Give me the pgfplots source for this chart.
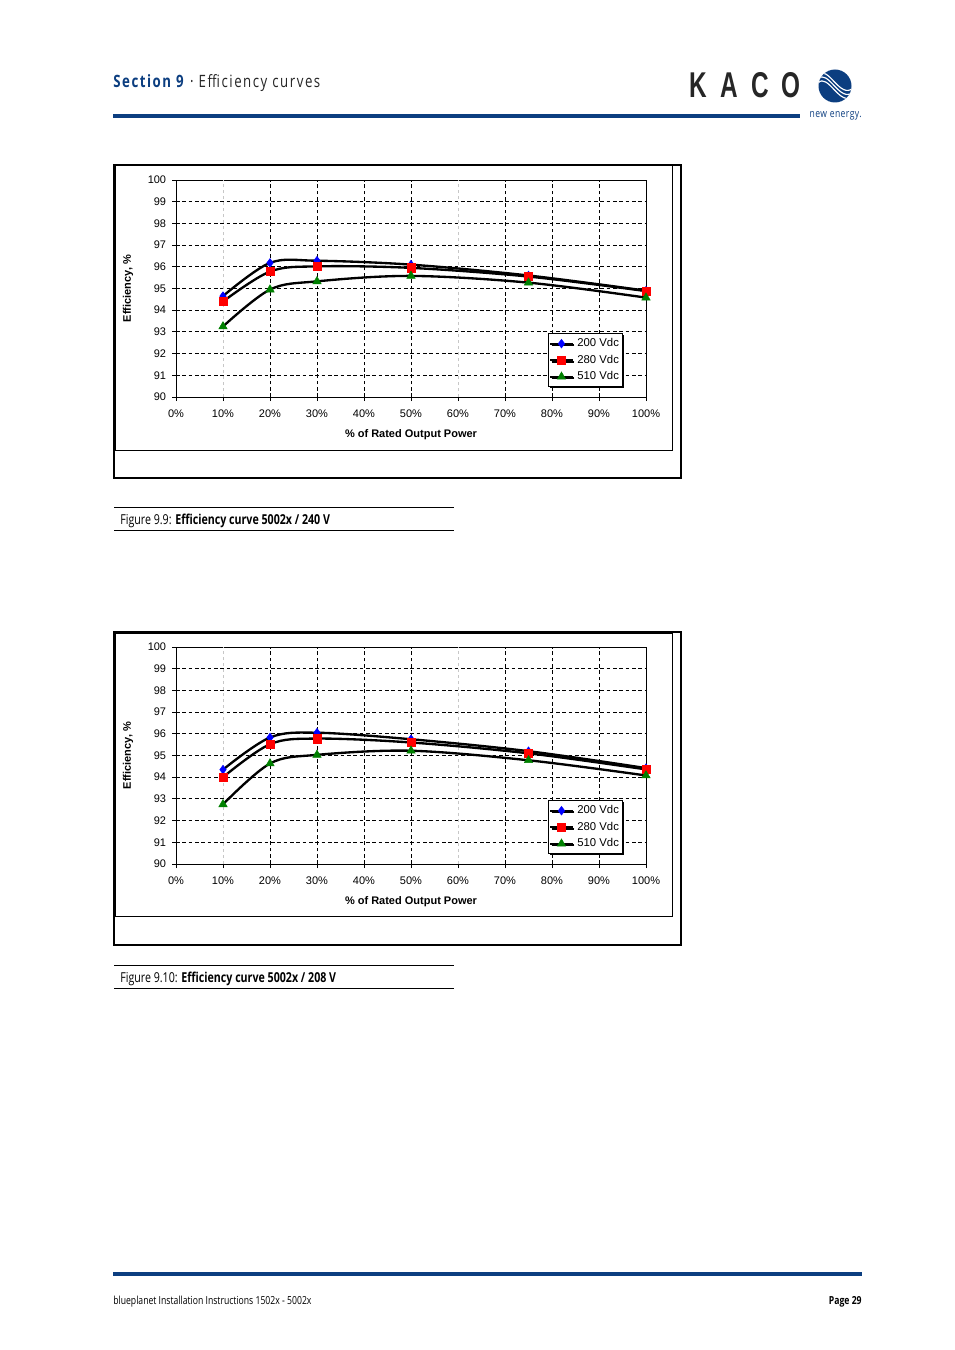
\documentclass[border=0pt]{standalone}
\usepackage{pgfplots}
\usepackage{pgfplotstable}
\pgfplotsset{compat=1.18}
\usepackage{fontspec}
\setmainfont{Liberation Sans}
\newfontfamily\myriad{Open Sans}[FakeStretch=0.78]
\newfontfamily\logofont{Liberation Sans}[FakeStretch=0.68]
\usetikzlibrary{shadows}

\definecolor{kacoblue}{RGB}{12,62,128}
\definecolor{mkblue}{RGB}{0,0,255}
\definecolor{mkred}{RGB}{255,0,0}
\definecolor{mkgreen}{RGB}{0,128,0}

% efficiency, 240 V grid
\pgfplotstableread{
p    v200   v280   v510
10   94.65  94.40  93.25
20   96.18  95.78  94.95
30   96.28  96.02  95.33
50   96.10  95.95  95.58
75   95.60  95.55  95.27
100  94.90  94.88  94.58
}\dataA

% efficiency, 208 V grid
\pgfplotstableread{
p    v200   v280   v510
10   94.35  94.00  92.75
20   95.83  95.52  94.63
30   96.05  95.78  95.03
50   95.75  95.60  95.22
75   95.20  95.10  94.78
100  94.42  94.36  94.08
}\dataB

\pgfplotsset{
  effstyle/.style={
    scale only axis,
    width=282pt, height=130.2pt,
    xmin=0, xmax=100, ymin=90, ymax=100,
    xtick={0,20,30,40,50,70,80,90,100},
    extra x ticks={10,60},
    extra x tick style={major grid style={black!22, dash pattern=on 2pt off 1.6pt, line width=0.45pt}},
    ytick={90,91,...,100},
    xticklabel={\pgfmathprintnumber{\tick}\%},
    /pgf/number format/assume math mode=true,
    grid=major,
    major grid style={black, dash pattern=on 2.2pt off 1.6pt, line width=0.5pt},
    axis line style={black, line width=0.6pt},
    tick align=outside, xtick pos=bottom, ytick pos=left,
    major tick length=2.4pt,
    tick style={black, line width=0.6pt},
    tick label style={font=\fontsize{6.6}{7}\selectfont},
    xticklabel style={yshift=-1.5pt},
    xlabel={\% of Rated Output Power},
    ylabel={Efficiency, \%},
    xlabel style={font=\bfseries\fontsize{6.6}{7}\selectfont, at={(axis description cs:0.5,-0.175)}, anchor=center},
    ylabel style={font=\bfseries\fontsize{6.6}{7}\selectfont, at={(axis description cs:-0.102,0.5)}, anchor=center},
    legend style={at={(0.791,0.295)}, anchor=north west, draw=black, line width=0.8pt,
      fill=white, font=\fontsize{6.8}{8}\selectfont, inner xsep=0.3pt, inner ysep=0.8pt, row sep=-0.5pt,
      cells={anchor=west},
      drop shadow={shadow xshift=0.9pt, shadow yshift=-0.9pt, opacity=1, fill=black}},
    legend image code/.code={\draw[mark repeat=2,mark phase=2] plot coordinates {(0cm,0cm) (0.24cm,0cm) (0.48cm,0cm)};},
  },
  curve/.style={black, line width=1.4pt, smooth, tension=0.55},
  m200/.style={mark=diamond*, mark size=2.6pt, mark options={mkblue, fill=mkblue, line width=0.3pt}},
  m280/.style={mark=square*, mark size=2.5pt, mark options={mkred, fill=mkred, line width=0.3pt}},
  m510/.style={mark=triangle*, mark size=2.9pt, mark options={mkgreen, fill=mkgreen, line width=0.3pt}},
}

\begin{document}
\begin{tikzpicture}
\begin{scope}[x=0.6pt, y=-0.6pt]
  \fill[white] (0,0) rectangle (954,1350);
  \useasboundingbox (0,0) rectangle (954,1350);

  % header
  \node[anchor=base west, inner sep=0] at (113,88)
    {\myriad\fontsize{10.2}{12}\selectfont\addfontfeatures{LetterSpace=9}\textcolor{kacoblue}{\textbf{Section 9}} \textcolor{black!85}{· Efficiency curves}};
  \fill[kacoblue] (113,114) rectangle (800,118);
  \foreach \c/\xx in {K/698, A/729, C/760, O/791}
    \node[anchor=base, inner sep=0, text=black!85] at (\xx,98) {\logofont\bfseries\fontsize{21.5}{22}\selectfont\c};
  \fill[kacoblue] (835,86) circle (16.5);
  \begin{scope}
    \clip (835,86) circle (16.5);
    \foreach \d in {-4,0,4}
      \draw[white, line width=0.7pt] (818,79+\d) .. controls (828,68+\d) and (840,104+\d) .. (853,92+\d);
  \end{scope}
  \node[anchor=base east, inner sep=0, text=kacoblue] at (862,118)
    {\myriad\fontsize{6.6}{8}\selectfont\addfontfeatures{LetterSpace=4}new energy.};

  % chart frames
  \draw[black, line width=0.6pt] (115,166) rectangle (672,450);
  \draw[black, line width=1.3pt] (114,165) rectangle (681,478);
  \draw[black, line width=0.6pt] (115,633) rectangle (672,916);
  \draw[black, line width=1.3pt] (114,632) rectangle (681,945);

  % captions
  \draw[black, line width=0.6pt] (114,507) -- (454,507);
  \draw[black, line width=0.6pt] (114,530) -- (454,530);
  \node[anchor=base west, inner sep=0] at (120,524)
    {\myriad\fontsize{8.2}{9}\selectfont Figure 9.9: \textbf{Efficiency curve 5002x / 240 V}};
  \draw[black, line width=0.6pt] (114,965) -- (454,965);
  \draw[black, line width=0.6pt] (114,988) -- (454,988);
  \node[anchor=base west, inner sep=0] at (120,982)
    {\myriad\fontsize{8.2}{9}\selectfont Figure 9.10: \textbf{Efficiency curve 5002x / 208 V}};

  % footer
  \fill[kacoblue] (113,1272) rectangle (862,1276);
  \node[anchor=base west, inner sep=0] at (113,1304)
    {\myriad\fontsize{6.65}{8}\selectfont blueplanet Installation Instructions 1502x - 5002x};
  \node[anchor=base east, inner sep=0] at (862,1304)
    {\myriad\fontsize{6.65}{8}\selectfont\bfseries Page 29};
\end{scope}

\begin{axis}[effstyle, at={(176*0.6pt,-397*0.6pt)}, anchor=south west]
  \addplot[curve, m200] table[x=p, y=v200] {\dataA};
  \addplot[curve, m280] table[x=p, y=v280] {\dataA};
  \addplot[curve, m510] table[x=p, y=v510] {\dataA};
  \legend{200 Vdc, 280 Vdc, 510 Vdc}
\end{axis}

\begin{axis}[effstyle, at={(176*0.6pt,-864*0.6pt)}, anchor=south west]
  \addplot[curve, m200] table[x=p, y=v200] {\dataB};
  \addplot[curve, m280] table[x=p, y=v280] {\dataB};
  \addplot[curve, m510] table[x=p, y=v510] {\dataB};
  \legend{200 Vdc, 280 Vdc, 510 Vdc}
\end{axis}
\end{tikzpicture}
\end{document}
